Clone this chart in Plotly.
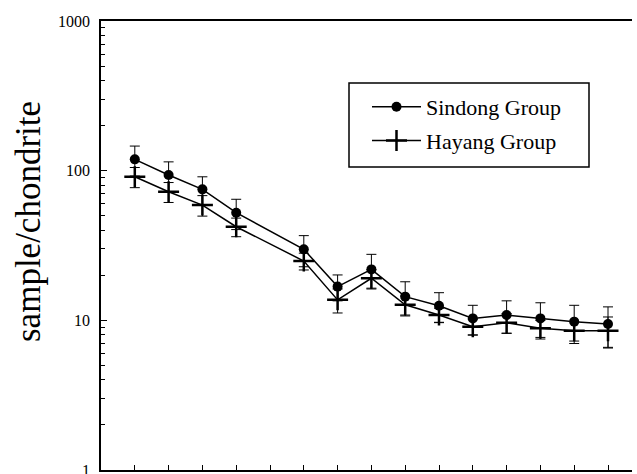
import plotly.graph_objects as go

elements = ["La", "Ce", "Pr", "Nd", "Pm", "Sm", "Eu", "Gd", "Tb", "Dy", "Ho", "Er", "Tm", "Yb", "Lu"]
positions = list(range(1, 16))

sindong_x = [1, 2, 3, 4, 6, 7, 8, 9, 10, 11, 12, 13, 14, 15]
sindong = [119, 93.5, 75, 52.4, 29.8, 16.8, 21.9, 14.4, 12.5, 10.3, 10.85, 10.3, 9.8, 9.45]
sindong_err = [27, 21, 16, 12, 7, 3.3, 5.7, 3.7, 2.8, 2.3, 2.65, 2.8, 2.8, 2.85]

hayang_x = [1, 2, 3, 4, 6, 7, 8, 9, 10, 11, 12, 13, 14, 15]
hayang = [91, 72.3, 58.9, 42.2, 24.9, 13.7, 19.1, 12.7, 10.85, 9.06, 9.64, 8.84, 8.53, 8.53]
hayang_err = [14, 11, 9.2, 6, 3.2, 2.5, 2.7, 1.85, 1.2, 1.1, 1.45, 1.15, 1.26, 2.0]

y_tickvals = [1, 10, 100, 1000]
y_ticktext = ["1", "10", "100", "1000"]

FONT = "Liberation Serif"

fig = go.Figure()

fig.add_trace(go.Scatter(
    x=sindong_x, y=sindong, name="Sindong Group", mode="lines+markers",
    line=dict(color="black", width=1.5),
    marker=dict(symbol="circle", size=10, color="black"),
    error_y=dict(type="data", array=sindong_err, visible=True, color="black", thickness=1, width=5),
    legendgroup="a",
))
fig.add_trace(go.Scatter(
    x=hayang_x, y=hayang, name="Hayang Group", mode="lines+markers",
    line=dict(color="black", width=1.5),
    marker=dict(symbol="cross-thin", size=15, color="black", line=dict(color="black", width=2.5)),
    error_y=dict(type="data", array=hayang_err, visible=True, color="black", thickness=1, width=5),
    legendgroup="b",
))

L, R, T, B = 101, 632, 21, 470
W, H = 637, 474
pw, ph = R - L, B - T

def px(x):
    return (x - L) / pw

def py(y):
    return (B - y) / ph

minor_vals = [m * 10 ** d for d in range(0, 3) for m in range(2, 10)]

fig.update_layout(
    template="none",
    width=W, height=H,
    margin=dict(l=L, r=W - R, t=T, b=H - B, pad=0, autoexpand=False),
    paper_bgcolor="white", plot_bgcolor="white",
    showlegend=True,
    legend=dict(
        x=px(367), y=py(86), xanchor="left", yanchor="top",
        bgcolor="rgba(0,0,0,0)", borderwidth=0,
        font=dict(family=FONT, size=22, color="black"),
        itemwidth=49, tracegroupgap=2,
    ),
    xaxis=dict(
        range=[0, (R - L) / 33.8], tickvals=positions, ticktext=elements,
        showticklabels=False, ticks="inside", ticklen=5, tickwidth=1.2, tickcolor="black",
        showline=True, linecolor="black", linewidth=1.5, mirror=True,
        showgrid=False, zeroline=False, automargin=False,
    ),
    yaxis=dict(
        type="log", range=[0, 3], tickvals=y_tickvals, ticktext=y_ticktext,
        ticks="inside", ticklen=6, tickwidth=1.2, tickcolor="black",
        tickfont=dict(family=FONT, size=16, color="black"),
        ticklabelstandoff=6, ticklabeloverflow="allow",
        minor=dict(tickvals=minor_vals, ticks="inside", ticklen=4, tickcolor="black", tickwidth=1, showgrid=False),
        showline=True, linecolor="black", linewidth=1.5, mirror=False,
        showgrid=False, zeroline=False, automargin=False,
    ),
    shapes=[dict(
        type="rect", xref="paper", yref="paper",
        x0=px(349), x1=px(589), y0=py(167), y1=py(83),
        line=dict(color="black", width=1.5), fillcolor="rgba(0,0,0,0)", layer="above",
    )],
    annotations=[dict(
        text="sample/chondrite", xref="paper", yref="paper",
        x=px(28), y=py(222), xanchor="center", yanchor="middle",
        textangle=-90, showarrow=False,
        font=dict(family=FONT, size=35, color="black"),
    )],
)

fig.write_html("out.html")
